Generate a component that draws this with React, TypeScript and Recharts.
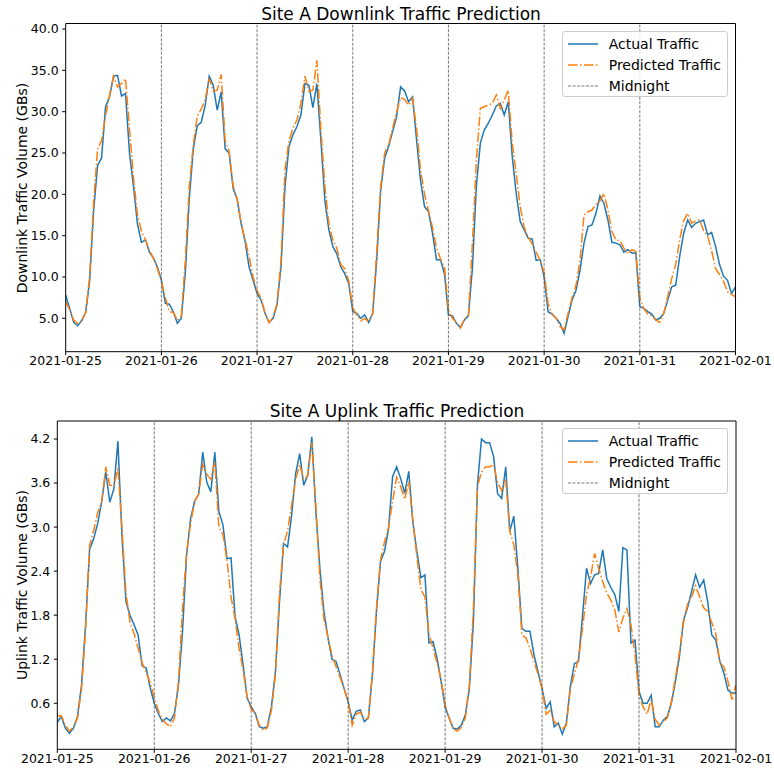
import React from 'react';
import { LineChart, Line, XAxis, YAxis, ReferenceLine } from 'recharts';

const dayLabels = ['2021-01-25', '2021-01-26', '2021-01-27', '2021-01-28', '2021-01-29', '2021-01-30', '2021-01-31', '2021-02-01'];
const dayTicks = [0, 24, 48, 72, 96, 120, 144, 168];
const midnightHours = [24, 48, 72, 96, 120, 144];

const dlActual = [
  7.8, 6.2, 4.5, 4.1, 4.7, 5.7, 9.5, 18.0, 23.5, 24.4, 30.6, 31.8, 34.3, 34.4, 31.9, 32.2, 25.0, 21.0, 16.4, 14.2, 14.5, 13.0, 12.3, 11.2,
  9.6, 6.8, 6.7, 5.8, 4.4, 5.0, 10.5, 19.5, 25.5, 28.3, 28.7, 30.8, 34.3, 33.2, 30.2, 32.4, 25.5, 25.0, 20.7, 19.4, 16.5, 14.3, 11.2, 9.6,
  8.0, 7.2, 5.6, 4.5, 5.0, 6.6, 11.2, 20.9, 25.8, 27.2, 28.2, 29.6, 33.4, 33.2, 30.5, 33.4, 26.6, 19.3, 15.7, 13.7, 12.8, 11.2, 10.4, 9.2,
  5.8, 5.6, 5.0, 5.4, 4.5, 5.6, 12.0, 20.5, 24.4, 25.8, 27.6, 29.4, 33.0, 32.5, 31.2, 31.8, 26.6, 21.7, 18.5, 17.9, 15.3, 12.1, 12.1, 10.4,
  5.4, 5.3, 4.4, 3.9, 4.8, 5.3, 11.0, 21.0, 26.2, 27.8, 28.6, 29.6, 30.7, 31.0, 29.6, 31.2, 24.6, 20.1, 16.7, 15.7, 14.7, 14.6, 12.0, 12.1,
  10.0, 5.8, 5.5, 5.0, 4.4, 3.2, 5.2, 7.2, 8.4, 10.8, 14.1, 16.1, 16.3, 17.7, 19.8, 18.9, 16.9, 14.2, 14.1, 13.9, 13.0, 13.3, 12.9, 12.9,
  6.4, 6.2, 5.8, 5.5, 4.8, 5.0, 5.6, 7.2, 8.8, 9.0, 12.5, 15.3, 16.9, 16.0, 16.5, 16.7, 16.9, 15.1, 15.4, 13.7, 11.5, 10.1, 9.6, 8.0, 8.8,
];

const dlPred = [
  7.0, 6.0, 4.8, 4.4, 4.7, 5.7, 10.0, 19.0, 25.5, 26.5, 29.5, 32.0, 34.3, 33.0, 33.4, 34.0, 28.0, 22.0, 17.5, 15.5, 14.5, 13.2, 12.3, 11.0,
  9.5, 7.5, 5.8, 5.7, 4.8, 5.3, 12.0, 21.0, 26.0, 29.5, 30.3, 31.5, 34.0, 32.5, 32.6, 34.5, 26.5, 25.2, 21.0, 19.5, 16.5, 14.5, 12.5, 10.0,
  8.3, 7.5, 5.6, 4.5, 5.1, 6.8, 12.0, 23.0, 26.5, 28.0, 29.0, 31.0, 34.3, 32.5, 32.6, 36.2, 28.0, 21.0, 16.5, 14.5, 13.5, 11.5, 11.0, 9.5,
  6.3, 5.4, 4.7, 5.0, 4.6, 5.6, 13.0, 21.0, 25.0, 26.0, 28.0, 30.0, 31.7, 31.5, 30.8, 31.6, 28.0, 23.0, 20.0, 18.0, 16.0, 13.5, 12.2, 11.2,
  6.0, 5.0, 4.5, 3.8, 4.9, 5.3, 14.0, 24.0, 30.4, 30.6, 30.8, 31.0, 32.0, 30.4, 31.4, 32.6, 26.2, 22.5, 18.5, 16.0, 14.8, 14.0, 13.0, 12.0,
  10.5, 6.8, 5.5, 5.0, 4.0, 3.6, 5.6, 7.5, 9.0, 12.0, 17.5, 17.9, 18.1, 18.8, 19.2, 20.1, 18.1, 15.5, 14.5, 14.4, 13.5, 12.8, 13.3, 13.1,
  7.5, 6.2, 5.5, 5.3, 4.8, 4.5, 5.6, 7.6, 9.8, 11.5, 14.5, 16.8, 17.7, 16.5, 16.8, 16.9, 15.6, 15.0, 13.2, 11.0, 10.3, 9.5, 8.2, 7.9, 7.6,
];

const ulActual = [
  0.34, 0.42, 0.26, 0.19, 0.26, 0.42, 0.85, 1.67, 2.70, 2.84, 3.05, 3.35, 3.75, 3.34, 3.52, 4.17, 2.89, 1.98, 1.80, 1.67, 1.53, 1.11, 1.08, 0.81,
  0.60, 0.46, 0.35, 0.40, 0.36, 0.46, 0.85, 1.58, 2.62, 3.12, 3.35, 3.45, 4.02, 3.61, 3.48, 4.02, 3.21, 3.03, 2.57, 2.58, 1.78, 1.53, 1.12, 0.67,
  0.55, 0.46, 0.28, 0.26, 0.28, 0.55, 1.03, 1.98, 2.78, 2.73, 3.16, 3.73, 4.00, 3.57, 3.71, 4.23, 3.21, 2.44, 1.85, 1.49, 1.20, 1.17, 0.99, 0.80,
  0.62, 0.37, 0.49, 0.51, 0.35, 0.40, 0.99, 1.85, 2.53, 2.67, 2.98, 3.69, 3.82, 3.66, 3.46, 3.76, 3.07, 2.67, 2.31, 2.35, 1.42, 1.44, 1.21, 0.90,
  0.55, 0.40, 0.26, 0.25, 0.30, 0.44, 0.80, 1.71, 3.57, 4.20, 4.15, 4.15, 3.96, 3.45, 3.39, 3.82, 2.94, 3.15, 2.44, 1.62, 1.58, 1.58, 1.26, 1.03,
  0.80, 0.53, 0.62, 0.28, 0.33, 0.18, 0.33, 0.83, 1.14, 1.17, 1.78, 2.44, 2.23, 2.35, 2.37, 2.69, 2.30, 2.18, 2.08, 1.85, 2.72, 2.69, 1.42, 1.46,
  0.76, 0.60, 0.60, 0.71, 0.28, 0.28, 0.37, 0.42, 0.60, 0.90, 1.24, 1.73, 1.90, 2.12, 2.35, 2.18, 2.28, 1.98, 1.53, 1.46, 1.17, 1.01, 0.78, 0.74, 0.74,
];

const ulPred = [
  0.43, 0.43, 0.30, 0.22, 0.28, 0.40, 0.80, 1.60, 2.75, 2.95, 3.20, 3.35, 3.82, 3.57, 3.56, 3.80, 3.00, 2.10, 1.70, 1.55, 1.35, 1.15, 1.02, 0.88,
  0.68, 0.50, 0.38, 0.32, 0.28, 0.40, 0.90, 1.90, 2.65, 3.05, 3.35, 3.45, 3.85, 3.72, 3.65, 3.88, 3.00, 2.90, 2.55, 2.05, 1.75, 1.35, 1.05, 0.68,
  0.52, 0.46, 0.30, 0.23, 0.27, 0.50, 1.00, 2.10, 2.75, 2.95, 3.30, 3.65, 3.85, 3.65, 3.70, 4.15, 3.30, 2.30, 1.75, 1.50, 1.25, 1.10, 0.95, 0.80,
  0.62, 0.30, 0.45, 0.48, 0.38, 0.40, 1.00, 1.90, 2.55, 2.80, 3.00, 3.35, 3.68, 3.55, 3.38, 3.62, 3.10, 2.60, 2.15, 2.05, 1.55, 1.35, 1.15, 0.92,
  0.58, 0.40, 0.25, 0.22, 0.27, 0.40, 0.85, 1.90, 3.55, 3.75, 3.82, 3.82, 3.85, 3.60, 3.50, 3.64, 2.94, 2.76, 2.35, 1.53, 1.49, 1.35, 1.17, 0.99,
  0.80, 0.45, 0.50, 0.35, 0.30, 0.25, 0.30, 0.80, 1.00, 1.20, 1.62, 2.08, 2.32, 2.64, 2.44, 2.26, 2.10, 2.01, 1.87, 1.57, 1.76, 1.89, 1.67, 1.26,
  0.71, 0.55, 0.45, 0.65, 0.38, 0.30, 0.35, 0.40, 0.62, 0.95, 1.30, 1.70, 1.95, 2.05, 2.20, 2.05, 1.90, 1.85, 1.70, 1.55, 1.15, 1.10, 0.90, 0.65, 0.85,
];

const dlTicks = [5, 10, 15, 20, 25, 30, 35, 40];
const ulTicks = [0.6, 1.2, 1.8, 2.4, 3.0, 3.6, 4.2];

const FONT = '"DejaVu Sans", sans-serif';
const BLUE = '#1f77b4';
const ORANGE = '#ff7f0e';
const GRAY = '#555555';

function buildRows(actual: number[], pred: number[]) {
  return actual.map((a, i) => ({ h: i, actual: a, pred: pred[i] }));
}

type PanelProps = {
  top: number;
  height: number;
  margin: { top: number; right: number; bottom: number; left: number };
  yWidth: number;
  xHeight: number;
  domain: [number, number];
  yTicks: number[];
  rows: { h: number; actual: number; pred: number }[];
  title: string;
  titleX: number;
  titleY: number;
  yLabel: string;
  yLabelX: number;
  yLabelY: number;
  legendLeft: number;
  legendTop: number;
};

function LegendBox({ left, top }: { left: number; top: number }) {
  const items = [
    { label: 'Actual Traffic', color: BLUE, dash: undefined as string | undefined, width: 1.5 },
    { label: 'Predicted Traffic', color: ORANGE, dash: '9.6 2.4 1.5 2.4', width: 1.5 },
    { label: 'Midnight', color: GRAY, dash: '3 1.5', width: 0.8 },
  ];
  return (
    <div
      style={{
        position: 'absolute',
        left,
        top,
        width: 166,
        height: 66,
        border: '1px solid #cccccc',
        borderRadius: 3,
        background: 'rgba(255,255,255,0.8)',
        boxSizing: 'border-box',
        fontFamily: FONT,
        fontSize: 14,
        color: '#000',
      }}
    >
      {items.map((it, i) => (
        <div key={it.label} style={{ position: 'absolute', left: 0, top: 2 + i * 21, height: 20, width: '100%' }}>
          <svg width={40} height={20} style={{ position: 'absolute', left: 5, top: 0 }}>
            <line x1={0} y1={10} x2={30} y2={10} stroke={it.color} strokeWidth={it.width} strokeDasharray={it.dash} />
          </svg>
          <span style={{ position: 'absolute', left: 46, top: 1, lineHeight: '18px', whiteSpace: 'nowrap' }}>{it.label}</span>
        </div>
      ))}
    </div>
  );
}

function Panel(p: PanelProps) {
  const tickStyle = { fontSize: 12.5, fill: '#000', fontFamily: FONT };
  return (
    <div style={{ position: 'absolute', left: 0, top: p.top, width: 774, height: p.height }}>
      <LineChart width={774} height={p.height} data={p.rows} margin={p.margin} style={{ fontFamily: FONT }}>
        <XAxis
          dataKey="h"
          type="number"
          domain={[0, 168]}
          ticks={dayTicks}
          interval={0}
          tickFormatter={(v: number) => dayLabels[Math.round(v / 24)]}
          height={p.xHeight}
          stroke="#000"
          tick={tickStyle}
          tickSize={3.5}
          tickMargin={1}
          allowDataOverflow
        />
        <YAxis
          type="number"
          domain={p.domain}
          ticks={p.yTicks}
          interval={0}
          tickFormatter={(v: number) => v.toFixed(1)}
          width={p.yWidth}
          stroke="#000"
          tick={tickStyle}
          tickSize={3.5}
          tickMargin={3.5}
          allowDataOverflow
        />
        <Line type="linear" dataKey="actual" stroke={BLUE} strokeWidth={1.5} dot={false} isAnimationActive={false} />
        <Line
          type="linear"
          dataKey="pred"
          stroke={ORANGE}
          strokeWidth={1.5}
          strokeDasharray="9.6 2.4 1.5 2.4"
          dot={false}
          isAnimationActive={false}
        />
        {midnightHours.map((h) => (
          <ReferenceLine key={h} x={h} stroke={GRAY} strokeWidth={0.8} strokeDasharray="3 1.5" />
        ))}
        <ReferenceLine x={168} stroke="#000" strokeWidth={1} />
        <ReferenceLine y={p.domain[1]} stroke="#000" strokeWidth={1} />
      </LineChart>
      <div
        style={{
          position: 'absolute',
          left: p.titleX,
          top: p.titleY,
          transform: 'translate(-50%, -50%)',
          fontFamily: FONT,
          fontSize: 17,
          whiteSpace: 'nowrap',
          color: '#000',
        }}
      >
        {p.title}
      </div>
      <div
        style={{
          position: 'absolute',
          left: p.yLabelX,
          top: p.yLabelY,
          transform: 'translate(-50%, -50%) rotate(-90deg)',
          fontFamily: FONT,
          fontSize: 14,
          whiteSpace: 'nowrap',
          color: '#000',
        }}
      >
        {p.yLabel}
      </div>
      <LegendBox left={p.legendLeft} top={p.legendTop} />
    </div>
  );
}

export default function App() {
  const dlRows = buildRows(dlActual, dlPred);
  const ulRows = buildRows(ulActual, ulPred);
  return (
    <div style={{ position: 'absolute', left: 0, top: 0, width: 774, height: 771, background: '#fff', overflow: 'hidden' }}>
      <Panel
        top={0}
        height={390}
        margin={{ top: 23.5, right: 38.5, bottom: 8.3, left: 0 }}
        yWidth={65.7}
        xHeight={30}
        domain={[0.96, 40.67]}
        yTicks={dlTicks}
        rows={dlRows}
        title="Site A Downlink Traffic Prediction"
        titleX={401}
        titleY={14}
        yLabel="Downlink Traffic Volume (GBs)"
        yLabelX={22}
        yLabelY={187.6}
        legendLeft={561.7}
        legendTop={31}
      />
      <Panel
        top={390}
        height={381}
        margin={{ top: 31, right: 38, bottom: 1.7, left: 0 }}
        yWidth={57.3}
        xHeight={20}
        domain={[-0.027, 4.445]}
        yTicks={ulTicks}
        rows={ulRows}
        title="Site A Uplink Traffic Prediction"
        titleX={397}
        titleY={21}
        yLabel="Uplink Traffic Volume (GBs)"
        yLabelX={22}
        yLabelY={195}
        legendLeft={561.7}
        legendTop={38.3}
      />
    </div>
  );
}
